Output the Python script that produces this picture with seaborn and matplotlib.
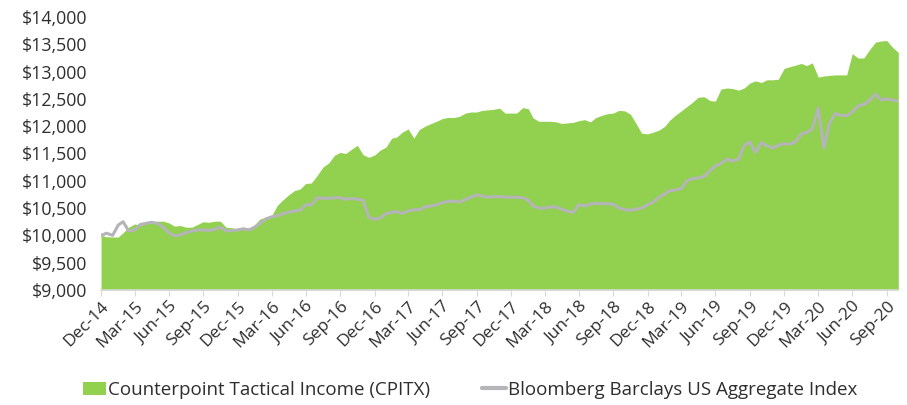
import pandas as pd
import numpy as np
import matplotlib.pyplot as plt
import matplotlib.dates as mdates
from matplotlib.patches import Patch
from matplotlib.lines import Line2D
from matplotlib.ticker import FuncFormatter
import seaborn as sns

# growth of $10,000, read off the picture roughly twice a month
cpitx = [10000, 9975, 9970, 9970, 10050, 10150, 10210, 10180, 10220, 10240,
         10260, 10260, 10230, 10170, 10180, 10150, 10150, 10200, 10250, 10240,
         10260, 10260, 10150, 10140, 10120, 10150, 10130, 10200, 10300, 10330,
         10360, 10550, 10650, 10740, 10820, 10850, 10950, 10960, 11100, 11250,
         11330, 11470, 11520, 11500, 11580, 11650, 11480, 11430, 11470, 11560,
         11620, 11780, 11800, 11890, 11950, 11780, 11940, 12000, 12050, 12090,
         12140, 12160, 12160, 12180, 12240, 12260, 12260, 12290, 12300, 12310,
         12330, 12240, 12240, 12240, 12340, 12320, 12150, 12090, 12090, 12090,
         12080, 12050, 12060, 12070, 12100, 12120, 12080, 12160, 12200, 12230,
         12240, 12290, 12280, 12220, 12050, 11870, 11860, 11890, 11930, 12000,
         12110, 12200, 12280, 12360, 12440, 12530, 12540, 12470, 12460, 12680,
         12700, 12690, 12660, 12700, 12790, 12830, 12800, 12850, 12850, 12860,
         13060, 13090, 13120, 13150, 13110, 13160, 12900, 12920, 12930, 12940,
         12940, 12940, 13330, 13250, 13250, 13400, 13540, 13560, 13570, 13450,
         13350]

agg = [10000, 10040, 10000, 10190, 10250, 10080, 10100, 10200, 10220, 10240,
       10220, 10150, 10050, 9990, 10010, 10050, 10080, 10100, 10100, 10090,
       10110, 10150, 10080, 10090, 10100, 10120, 10100, 10150, 10220, 10300,
       10340, 10360, 10400, 10420, 10450, 10460, 10560, 10560, 10690, 10680,
       10680, 10690, 10690, 10660, 10680, 10660, 10650, 10340, 10290, 10320,
       10400, 10420, 10440, 10400, 10450, 10470, 10470, 10520, 10540, 10560,
       10600, 10620, 10630, 10610, 10660, 10700, 10740, 10720, 10700, 10710,
       10710, 10700, 10700, 10700, 10690, 10640, 10540, 10500, 10500, 10520,
       10520, 10480, 10440, 10420, 10560, 10540, 10570, 10590, 10580, 10580,
       10570, 10500, 10470, 10460, 10480, 10500, 10560, 10610, 10700, 10760,
       10820, 10830, 10860, 11000, 11040, 11050, 11080, 11180, 11270, 11320,
       11400, 11360, 11400, 11650, 11710, 11520, 11700, 11640, 11600, 11650,
       11680, 11670, 11720, 11860, 11880, 11950, 12330, 11600, 12050, 12230,
       12200, 12190, 12260, 12370, 12400, 12470, 12590, 12480, 12500, 12480,
       12460]

# dates: Dec 31 2014, then the 15th and the last day of every month to Oct 2020
month_ends = pd.date_range('2014-12-31', '2020-10-31', freq='ME')
dates = [month_ends[0]]
for m in month_ends[1:]:
    dates.append(m.replace(day=15))
    dates.append(m)

df = pd.DataFrame({'date': dates, 'cpitx': cpitx, 'agg': agg})

green = '#92d050'
grey = '#b4b4b9'
text_color = '#2e2e2e'

sns.set_style('white')
plt.rcParams['font.family'] = ['Open Sans', 'DejaVu Sans']

fig = plt.figure(figsize=(9.07, 4.05), dpi=100)
ax = fig.add_axes([0.1114, 0.284, 0.879, 0.674])

ax.fill_between(df['date'], 9000, df['cpitx'], color=green, lw=0, zorder=1)
sns.lineplot(data=df, x='date', y='agg', color=grey, lw=2.2, ax=ax, zorder=2)

ax.set_ylim(9000, 14000)
ax.set_yticks(np.arange(9000, 14001, 500))
ax.yaxis.set_major_formatter(FuncFormatter(lambda v, p: '${:,.0f}'.format(v)))
ax.set_xlim(df['date'].iloc[0], df['date'].iloc[-1])
ax.set_xticks(pd.date_range('2014-12-31', '2020-09-30', freq='QE'))
ax.xaxis.set_major_formatter(mdates.DateFormatter('%b-%y'))

for s in ['top', 'left', 'right']:
    ax.spines[s].set_visible(False)
ax.spines['bottom'].set_color('#d9d9d9')
ax.spines['bottom'].set_linewidth(1.2)
ax.tick_params(axis='x', length=4, color='#d9d9d9', labelsize=12.5,
               labelcolor=text_color, pad=2, bottom=True)
ax.tick_params(axis='y', length=0, labelsize=12.8, labelcolor=text_color, pad=10)
plt.setp(ax.get_xticklabels(), rotation=45, ha='right', rotation_mode='anchor')
ax.set_xlabel('')
ax.set_ylabel('')
ax.grid(False)

handles = [Patch(facecolor=green, edgecolor='none'),
           Line2D([0], [0], color=grey, lw=3)]
fig.legend(handles, ['Counterpoint Tactical Income (CPITX)',
                     'Bloomberg Barclays US Aggregate Index'],
           loc='center', bbox_to_anchor=(0.518, 0.037), ncol=2, frameon=False,
           fontsize=13.5, handlelength=1.25, handletextpad=0.1, columnspacing=2.8,
           labelcolor=text_color)

fig.savefig('out.png', dpi=100)
